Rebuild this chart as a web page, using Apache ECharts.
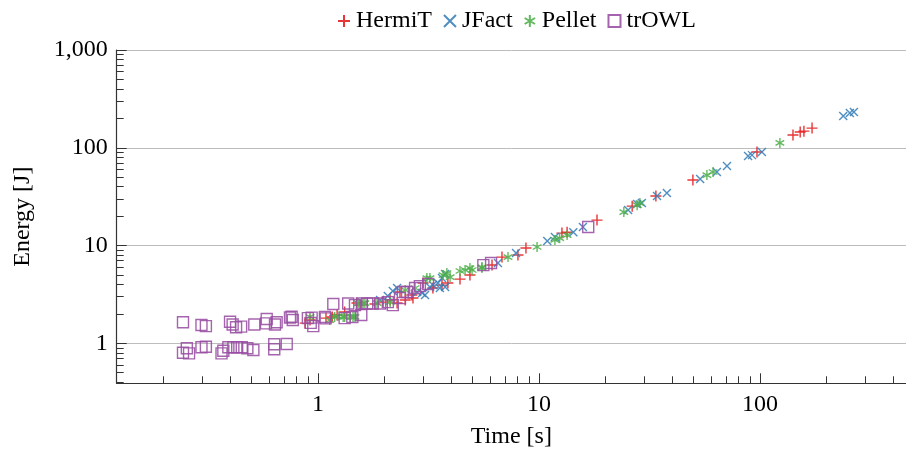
<!DOCTYPE html>
<html>
<head>
<meta charset="utf-8">
<script src="https://cdn.jsdelivr.net/npm/echarts@6/dist/echarts.min.js"></script>
<style>
html,body{margin:0;padding:0;background:#fff;}
#chart{width:906px;height:450px;}
</style>
</head>
<body>
<div id="chart"></div>
<script>
// ---- data: [time (s), energy (J)] ----
const hermit = [[0.874,1.61],[0.920,1.73],[1.087,1.81],[1.16,1.86],[1.22,1.95],[1.32,2.09],[1.50,2.58],[1.55,2.46],[1.81,2.52],[1.97,2.64],[2.12,2.77],[2.28,2.58],[2.35,3.35],[2.48,2.77],[2.66,3.12],[2.69,2.91],[2.99,4.14],[3.31,3.68],[3.64,3.94],[3.87,4.14],[4.39,4.54],[4.87,4.99],[6.13,6.32],[6.80,7.62],[8.03,8.00],[8.73,9.43],[12.7,13.4],[13.4,13.7],[18.3,18.2],[26.4,25.3],[33.8,32.1],[49.7,46.8],[96.9,90.4],[141,135],[152,145],[158,148],[172,159]];
const jfact = [[1.91,2.77],[2.07,3.05],[2.18,3.43],[2.28,3.68],[2.81,3.35],[2.96,3.27],[3.05,3.12],[3.21,3.76],[3.31,3.94],[3.49,4.14],[3.56,3.68],[3.64,4.65],[3.76,5.11],[3.76,3.76],[6.52,6.62],[7.87,8.38],[10.9,11.1],[11.8,12.2],[14.3,13.7],[15.8,15.5],[25.3,23.1],[27.8,26.6],[29.2,27.2],[34.2,32.1],[37.9,34.4],[53.6,47.9],[63.8,56.5],[70.9,65.0],[88.3,82.2],[92.0,84.1],[102,90.4],[238,211],[255,227],[266,232]];
const pellet = [[0.920,1.86],[1.13,1.73],[1.19,1.86],[1.23,1.90],[1.30,1.86],[1.32,1.86],[1.40,1.86],[1.44,1.86],[1.47,1.86],[1.52,2.58],[1.60,2.58],[1.63,2.58],[1.85,2.58],[2.12,2.64],[2.48,3.51],[2.75,3.68],[3.11,4.65],[3.21,4.65],[3.68,4.99],[3.83,5.23],[3.96,4.76],[4.39,5.49],[4.63,5.62],[4.87,5.89],[4.98,5.62],[5.52,6.03],[5.52,5.89],[7.24,7.62],[9.80,9.66],[11.8,11.4],[12.4,11.9],[13.4,12.8],[24.2,22.0],[27.8,25.9],[28.6,27.2],[57.5,52.6],[61.3,56.5],[123,112]];
const trowl = [[0.245,1.64],[0.297,1.54],[0.311,1.50],[0.400,1.66],[0.411,1.56],[0.426,1.46],[0.449,1.48],[0.515,1.56],[0.586,1.77],[0.582,1.60],[0.639,1.56],[0.650,1.64],[0.747,1.84],[0.769,1.73],[0.760,1.87],[0.936,1.83],[0.927,1.62],[0.952,1.50],[1.083,1.80],[1.173,2.52],
  [0.245,0.80],[0.255,0.889],[0.261,0.79],[0.297,0.91],[0.311,0.923],[0.366,0.79],[0.373,0.84],[0.393,0.91],[0.414,0.91],[0.431,0.91],[0.452,0.91],[0.479,0.889],[0.510,0.854],[0.634,0.977],[0.634,0.869],[0.722,0.984],
  [0.90,1.81],[1.075,1.86],[1.32,1.81],[1.43,1.86],[1.57,1.95],[1.37,2.55],[1.47,2.46],[1.58,2.55],[1.67,2.55],[1.77,2.55],[1.91,2.55],[2.07,2.64],[2.18,2.46],[2.35,2.90],[2.42,3.35],[2.53,3.35],[2.75,3.68],[2.89,3.85],[3.15,4.04],[5.6,6.3],[6.07,6.62],[16.7,15.5]];

const seriesNames = ['HermiT','JFact','Pellet','trOWL'];
const xMajorTicks = [1, 10, 100];
const yMajorTicks = [1, 10, 100, 1000];
const xMinorTicks = [0.2,0.3,0.4,0.5,0.6,0.7,0.8,0.9,2,3,4,5,6,7,8,9,20,30,40,50,60,70,80,90,200,300,400];
const yMinorTicks = [0.4,0.5,0.6,0.7,0.8,0.9,2,3,4,5,6,7,8,9,20,30,40,50,60,70,80,90,200,300,400,500,600,700,800,900];
const xRange = [0.1228, 457.7];
const yRange = [0.39, 1000];

const FONT = 'Liberation Serif';
const AXIS_COLOR = '#333';
const colors = ['#e41a1c','#377eb8','#4daf4a','#984ea3'];
const symbols = [
  'path://M0,5L10,5M5,0L5,10',
  'path://M0,0L10,10M0,10L10,0',
  'path://M5,0L5,10M0.67,2.5L9.33,7.5M0.67,7.5L9.33,2.5',
  'path://M0,0L10,0L10,10L0,10Z'
];
const sizes = [11, 8, 10, 11];
const datasets = [hermit, jfact, pellet, trowl];

function fmt(v){ return String(Math.round(v)).replace(/\B(?=(\d{3})+(?!\d))/g, ','); }

const chart = echarts.init(document.getElementById('chart'), null, {renderer:'canvas'});

const option = {
  animation: false,
  backgroundColor: '#fff',
  grid: {left: 116.7, right: 0, top: 50, bottom: 66.7, containLabel: false, outerBoundsMode: 'none'},
  legend: {
    left: 332, top: 4,
    itemGap: 11, itemWidth: 12, itemHeight: 12,
    textStyle: {fontFamily: FONT, fontSize: 24, color: '#000', padding: [0,0,0,1]},
    data: seriesNames
  },
  xAxis: [{
    type: 'log', min: xRange[0], max: xRange[1], position: 'bottom',
    name: 'Time [s]', nameLocation: 'middle', nameGap: 41,
    nameTextStyle: {fontFamily: FONT, fontSize: 24, color: '#000'},
    axisLine: {show: true, lineStyle: {color: AXIS_COLOR, width: 1.2}},
    axisTick: {show: true, inside: true, length: 10, customValues: xMajorTicks, lineStyle: {color: AXIS_COLOR, width: 1}},
    axisLabel: {show: true, customValues: xMajorTicks, margin: 9, fontFamily: FONT, fontSize: 24, color: '#000', formatter: v => fmt(v)},
    splitLine: {show: false}
  },{
    type: 'log', min: xRange[0], max: xRange[1], position: 'bottom',
    axisLine: {show: false},
    axisTick: {show: true, inside: true, length: 7, customValues: xMinorTicks, lineStyle: {color: AXIS_COLOR, width: 1}},
    axisLabel: {show: false},
    splitLine: {show: false}
  }],
  yAxis: [{
    type: 'log', min: yRange[0], max: yRange[1], position: 'left',
    name: 'Energy [J]', nameLocation: 'middle', nameGap: 82,
    nameTextStyle: {fontFamily: FONT, fontSize: 24, color: '#000'},
    axisLine: {show: true, lineStyle: {color: AXIS_COLOR, width: 1.2}},
    axisTick: {show: true, inside: true, length: 10, customValues: yMajorTicks, lineStyle: {color: AXIS_COLOR, width: 1}},
    axisLabel: {show: true, customValues: yMajorTicks, margin: 9, fontFamily: FONT, fontSize: 24, color: '#000', formatter: v => fmt(v)},
    splitLine: {show: true, lineStyle: {color: '#bdbdbd', width: 1}}
  },{
    type: 'log', min: yRange[0], max: yRange[1], position: 'left',
    axisLine: {show: false},
    axisTick: {show: true, inside: true, length: 7, customValues: yMinorTicks, lineStyle: {color: AXIS_COLOR, width: 1}},
    axisLabel: {show: false},
    splitLine: {show: false}
  }],
  series: datasets.map((d, i) => ({
    name: seriesNames[i],
    type: 'scatter',
    xAxisIndex: 0, yAxisIndex: 0,
    data: d,
    symbol: symbols[i],
    symbolSize: sizes[i],
    symbolKeepAspect: true,
    itemStyle: {
      color: i === 3 ? 'rgba(0,0,0,0)' : colors[i],
      borderColor: colors[i],
      borderWidth: 1.4,
      opacity: 0.88
    },
    emphasis: {disabled: true}
  }))
};
chart.setOption(option);
</script>
</body>
</html>
